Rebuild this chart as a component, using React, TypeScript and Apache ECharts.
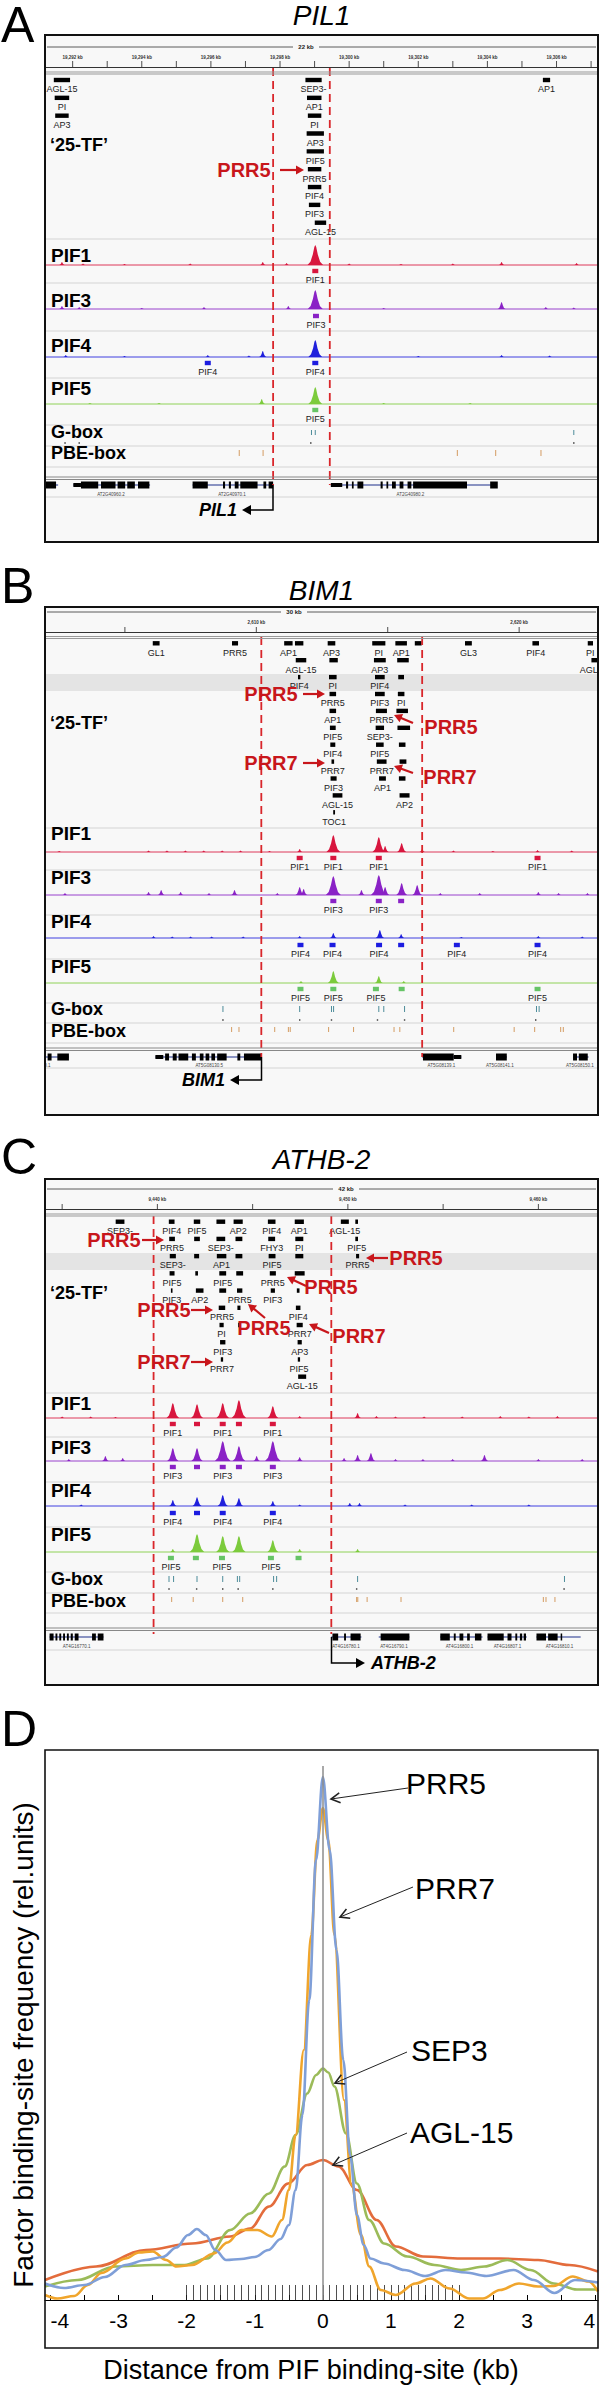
import { useEffect, useRef } from "react";
import * as echarts from "echarts";

const FONT = "'Liberation Sans', Arial, Helvetica, sans-serif";
const BOX_L = 45;
const BOX_R = 598;
const BOX_W = BOX_R - BOX_L;

const TRACK_NAMES = ["PIF1", "PIF3", "PIF4", "PIF5"];
const TRACK_COLORS = ["#d8163e", "#8a22c6", "#2020dc", "#7ccb3c"];
const SITE_COLORS = ["#d8163e", "#8a22c6", "#1c1ce0", "#66c466"];

// ================= Panel A : PIL1 =================
const rulerTicksA = [19292, 19293, 19294, 19295, 19296, 19297, 19298, 19299, 19300, 19301, 19302, 19303, 19304, 19305, 19306, 19307];
const rulerLabelsA = [[19292, "19,292 kb"], [19294, "19,294 kb"], [19296, "19,296 kb"], [19298, "19,298 kb"], [19300, "19,300 kb"], [19302, "19,302 kb"], [19304, "19,304 kb"], [19306, "19,306 kb"]];
const dashA = [19297.8, 19299.44];
const featuresA = [
  [19291.69, 0.47, 1, "AGL-15"], [19298.97, 0.47, 1, "SEP3-"], [19305.71, 0.21, 1, "AP1"],
  [19291.69, 0.42, 2, "PI"], [19298.99, 0.42, 2, "AP1"],
  [19291.69, 0.39, 3, "AP3"], [19299.0, 0.39, 3, "PI"],
  [19299.02, 0.5, 4, "AP3"],
  [19299.02, 0.5, 5, "PIF5"],
  [19299.0, 0.39, 6, "PRR5"],
  [19299.0, 0.39, 7, "PIF4"],
  [19299.0, 0.33, 8, "PIF3"],
  [19299.17, 0.33, 9, "AGL-15"],
];
const peaksA = [
  [19299.02, 20, 0], [19297.5, 3, 0], [19291.69, 3, 0], [19304.41, 3, 0], [19306.58, 2, 0], [19298.19, 2, 0], [19292.3, 1.5, 0], [19293.5, 1, 0], [19295.4, 1.5, 0], [19300.0, 1.5, 0], [19301.5, 1, 0], [19303.0, 1.5, 0],
  [19299.02, 19, 1], [19304.41, 7, 1], [19298.24, 3, 1], [19291.69, 3, 1], [19292.19, 2, 1], [19295.8, 2, 1], [19305.69, 2, 1], [19306.5, 1.5, 1], [19294.0, 1, 1], [19301.0, 1, 1],
  [19299.02, 17, 2], [19297.5, 6, 2], [19295.91, 2, 2], [19291.8, 2, 2], [19304.41, 2, 2], [19297.1, 1.5, 2], [19293.5, 1, 2], [19302.0, 1, 2], [19305.8, 1.5, 2],
  [19299.02, 17, 3], [19297.47, 5, 3], [19292.5, 1, 3], [19294.5, 1, 3], [19301.0, 1, 3], [19303.5, 1, 3],
];
const sitesA = [[19299.02, 0, "PIF1"], [19299.04, 1, "PIF3"], [19295.91, 2, "PIF4"], [19299.02, 2, "PIF4"], [19299.02, 3, "PIF5"]];
const gboxA = [19298.91, 19299.02, 19306.5];
const gboxDotsA = [19291.78, 19292.19, 19298.89, 19306.5];
const pbeA = [19296.82, 19297.51, 19303.13, 19304.24, 19305.55];
const geneLinesA = [[19291.22, 19291.58], [19292.02, 19294.24], [19295.47, 19297.8], [19299.47, 19304.19]];
const exonsA = [[19291.22, 19291.52], [19292.24, 19292.74], [19292.82, 19293.24], [19293.3, 19293.52], [19293.58, 19293.8], [19293.89, 19294.22], [19295.47, 19295.91], [19296.35, 19296.41], [19296.52, 19296.58], [19296.69, 19296.8], [19296.85, 19297.35], [19297.52, 19297.6], [19297.67, 19297.8], [19299.91, 19299.97], [19300.08, 19300.13], [19300.24, 19300.41], [19300.91, 19300.97], [19301.08, 19301.13], [19301.24, 19301.35], [19301.46, 19301.57], [19301.69, 19301.8], [19301.85, 19303.41], [19304.08, 19304.3]];
const utrA = [[19292.02, 19292.24], [19299.47, 19299.8]];
const geneLabelsA = [[19293.11, "AT2G40960.2"], [19296.61, "AT2G40970.1"], [19301.77, "AT2G40980.2"]];

// ================= Panel B : BIM1 =================
const rulerTicksB = [2605, 2610, 2615, 2620];
const rulerLabelsB = [[2610, "2,610 kb"], [2620, "2,620 kb"]];
const dashB = [2610.19, 2616.31];
const featuresB = [
  [2606.19, 0.26, 1, "GL1"], [2609.19, 0.23, 1, "PRR5"], [2611.22, 0.32, 1, "AP1"], [2611.63, 0.32, 1, ""], [2612.86, 0.29, 1, "AP3"], [2614.66, 0.5, 1, "PI"], [2615.51, 0.44, 1, "AP1"], [2616.16, 0.26, 1, ""], [2618.07, 0.26, 1, "GL3"], [2620.63, 0.25, 1, "PIF4"], [2622.71, 0.2, 1, "PI"],
  [2611.7, 0.4, 2, "AGL-15"], [2612.94, 0.32, 2, ""], [2614.7, 0.45, 2, "AP3"], [2615.58, 0.44, 2, ""], [2622.9, 0.3, 2, "AGL-15"],
  [2611.63, 0.09, 3, "PIF4"], [2612.91, 0.29, 3, "PI"], [2614.7, 0.37, 3, "PIF4"], [2615.51, 0.22, 3, ""],
  [2612.91, 0.25, 4, "PRR5"], [2614.7, 0.37, 4, "PIF3"], [2615.51, 0.25, 4, "PI"],
  [2612.91, 0.25, 5, "AP1"], [2614.76, 0.42, 5, "PRR5"], [2615.55, 0.44, 5, ""],
  [2612.91, 0.22, 6, "PIF5"], [2614.7, 0.32, 6, "SEP3-"], [2615.61, 0.48, 6, ""],
  [2612.91, 0.19, 7, "PIF4"], [2614.7, 0.29, 7, "PIF5"], [2615.55, 0.25, 7, ""],
  [2612.91, 0.1, 8, "PRR7"], [2614.77, 0.37, 8, "PRR7"], [2615.58, 0.26, 8, ""],
  [2612.94, 0.23, 9, "PIF3"], [2614.8, 0.26, 9, "AP1"], [2615.55, 0.25, 9, ""],
  [2613.09, 0.37, 10, "AGL-15"], [2615.64, 0.38, 10, "AP2"],
  [2612.96, 0.07, 11, "TOC1"],
];
const peaksB = [
  [2611.65, 3, 0], [2612.93, 17, 0], [2614.66, 15, 0], [2614.9, 6, 0], [2615.53, 9, 0], [2616.31, 3, 0], [2605.9, 1.5, 0], [2606.6, 1.5, 0], [2607.3, 1.5, 0], [2608.0, 1.5, 0], [2608.7, 1.5, 0], [2609.4, 1.5, 0], [2610.5, 1, 0], [2617.5, 1.5, 0], [2619.0, 1, 0], [2620.7, 2, 0], [2622.0, 1.5, 0], [2602.5, 1, 0],
  [2612.93, 19, 1], [2614.66, 20, 1], [2614.9, 8, 1], [2615.53, 12, 1], [2616.12, 10, 1], [2611.65, 8, 1], [2611.8, 6, 1], [2614.0, 5, 1], [2606.38, 5, 1], [2609.17, 5, 1], [2620.73, 3, 1], [2602.72, 2, 1], [2607.12, 3, 1], [2605.9, 3, 1], [2608.2, 2, 1], [2610.8, 2, 1], [2617.0, 2, 1], [2618.5, 2, 1], [2621.5, 2, 1], [2622.6, 2, 1],
  [2614.7, 8, 2], [2612.93, 5, 2], [2615.51, 4, 2], [2611.65, 2, 2], [2606.09, 2, 2], [2620.73, 2, 2], [2606.8, 1.5, 2], [2607.5, 1.5, 2], [2608.3, 1.5, 2], [2609.5, 1.5, 2], [2617.8, 1, 2], [2622.4, 1.5, 2],
  [2612.93, 12, 3], [2614.66, 7, 3], [2615.61, 2, 3], [2611.7, 2, 3],
];
const sitesB = [
  [2611.65, 0, "PIF1"], [2612.93, 0, "PIF1"], [2614.66, 0, "PIF1"], [2620.7, 0, "PIF1"],
  [2612.93, 1, "PIF3"], [2614.66, 1, "PIF3"], [2615.51, 1, ""],
  [2611.68, 2, "PIF4"], [2612.9, 2, "PIF4"], [2614.67, 2, "PIF4"], [2615.51, 2, ""], [2617.63, 2, "PIF4"], [2620.7, 2, "PIF4"],
  [2611.68, 3, "PIF5"], [2612.93, 3, "PIF5"], [2614.55, 3, "PIF5"], [2615.53, 3, ""], [2620.7, 3, "PIF5"],
];
const gboxB = [2608.73, 2611.65, 2612.86, 2612.94, 2614.66, 2614.85, 2615.64, 2620.66, 2620.76];
const gboxDotsB = [2608.73, 2611.65, 2612.86, 2614.61, 2615.64, 2620.63];
const pbeB = [2609.06, 2609.34, 2610.7, 2611.22, 2611.29, 2612.75, 2613.7, 2615.24, 2615.46, 2616.31, 2617.51, 2619.81, 2620.59, 2621.58, 2621.68];
const geneLinesB = [[2601.96, 2602.87], [2606.16, 2610.19], [2616.31, 2617.8], [2619.12, 2619.53], [2622.05, 2622.64]];
const exonsB = [[2602.06, 2602.21], [2602.43, 2602.87], [2606.53, 2606.68], [2606.82, 2606.97], [2607.04, 2607.41], [2607.55, 2607.7], [2607.85, 2607.99], [2608.07, 2608.21], [2608.29, 2608.43], [2608.51, 2608.87], [2609.28, 2609.39], [2609.53, 2610.19], [2616.34, 2617.51], [2619.12, 2619.53], [2622.05, 2622.2], [2622.27, 2622.61]];
const utrB = [[2606.16, 2606.46], [2617.51, 2617.8]];
const geneLabelsB = [[2602.05, "0.1"], [2608.21, "AT5G08130.5"], [2617.04, "AT5G08139.1"], [2619.27, "AT5G08141.1"], [2622.31, "AT5G08150.1"]];

// ================= Panel C : ATHB-2 =================
const rulerTicksC = [9435, 9440, 9445, 9450, 9455, 9460];
const rulerLabelsC = [[9440, "9,440 kb"], [9450, "9,450 kb"], [9460, "9,460 kb"]];
const dashC = [9439.8, 9449.13];
const featuresC = [
  [9438.04, 0.46, 1, "SEP3-"], [9440.75, 0.3, 1, "PIF4"], [9442.08, 0.34, 1, "PIF5"], [9443.33, 0.46, 1, ""], [9444.24, 0.48, 1, "AP2"], [9446.0, 0.4, 1, "PIF4"], [9447.45, 0.48, 1, "AP1"], [9449.84, 0.42, 1, "AGL-15"], [9450.46, 0.14, 1, ""],
  [9440.77, 0.3, 2, "PRR5"], [9442.08, 0.3, 2, ""], [9443.33, 0.46, 2, "SEP3-"], [9444.28, 0.36, 2, ""], [9446.0, 0.36, 2, "FHY3"], [9447.45, 0.42, 2, "PI"], [9450.46, 0.14, 2, "PIF5"],
  [9440.81, 0.32, 3, "SEP3-"], [9442.06, 0.26, 3, ""], [9443.37, 0.5, 3, "AP1"], [9444.28, 0.36, 3, ""], [9446.02, 0.36, 3, "PIF5"], [9447.45, 0.42, 3, ""], [9450.51, 0.16, 3, "PRR5"],
  [9440.77, 0.26, 4, "PIF5"], [9442.06, 0.14, 4, ""], [9443.43, 0.36, 4, "PIF5"], [9444.32, 0.36, 4, ""], [9446.06, 0.32, 4, "PRR5"], [9447.47, 0.52, 4, ""],
  [9440.75, 0.08, 5, "PIF3"], [9442.22, 0.4, 5, "AP2"], [9443.43, 0.36, 5, ""], [9444.32, 0.28, 5, "PRR5"], [9446.06, 0.22, 5, "PIF3"], [9447.39, 0.14, 5, ""],
  [9443.39, 0.34, 6, "PRR5"], [9444.28, 0.16, 6, ""], [9447.39, 0.24, 6, "PIF4"],
  [9443.37, 0.22, 7, "PI"], [9444.28, 0.08, 7, ""], [9447.47, 0.32, 7, "PRR7"],
  [9443.43, 0.28, 8, "PIF3"], [9447.47, 0.22, 8, "AP3"],
  [9443.39, 0.12, 9, "PRR7"], [9447.43, 0.12, 9, "PIF5"],
  [9447.6, 0.42, 10, "AGL-15"],
];
const peaksC = [
  [9440.81, 15, 0], [9442.08, 14, 0], [9443.43, 15, 0], [9444.28, 18, 0], [9446.06, 12, 0], [9450.51, 5, 0], [9447.47, 2, 0], [9435.0, 1.5, 0], [9436.5, 1.5, 0], [9437.8, 1, 0], [9451.5, 2, 0], [9452.5, 1.5, 0], [9454.0, 1.5, 0], [9456.0, 1.5, 0], [9458.0, 2, 0], [9459.5, 1.5, 0], [9461.0, 2, 0],
  [9440.81, 13, 1], [9442.08, 13, 1], [9443.43, 20, 1], [9444.28, 15, 1], [9446.06, 20, 1], [9437.27, 5, 1], [9445.21, 5, 1], [9447.47, 4, 1], [9451.21, 8, 1], [9450.51, 6, 1], [9457.17, 6, 1], [9435.35, 2, 1], [9438.18, 3, 1], [9453.94, 2, 1], [9460.0, 2, 1], [9449.8, 3, 1], [9452.5, 2, 1], [9455.5, 2, 1], [9462.3, 2, 1],
  [9440.81, 6, 2], [9442.08, 9, 2], [9443.43, 11, 2], [9444.28, 8, 2], [9446.06, 5, 2], [9450.1, 3, 2], [9450.61, 3, 2], [9447.47, 1.5, 2], [9436.0, 1.5, 2], [9453.0, 1.5, 2], [9456.5, 1.5, 2], [9459.5, 1.5, 2],
  [9440.81, 3, 3], [9442.08, 18, 3], [9443.43, 16, 3], [9444.28, 16, 3], [9446.06, 12, 3], [9447.47, 3, 3], [9450.51, 3, 3],
];
const sitesC = [
  [9440.81, 0, "PIF1"], [9442.08, 0, ""], [9443.43, 0, "PIF1"], [9444.28, 0, ""], [9446.06, 0, "PIF1"],
  [9440.81, 1, "PIF3"], [9442.08, 1, ""], [9443.43, 1, "PIF3"], [9444.28, 1, ""], [9446.06, 1, "PIF3"],
  [9440.81, 2, "PIF4"], [9442.08, 2, ""], [9443.43, 2, "PIF4"], [9446.06, 2, "PIF4"],
  [9440.71, 3, "PIF5"], [9442.02, 3, ""], [9443.39, 3, "PIF5"], [9445.96, 3, "PIF5"], [9447.41, 3, ""],
];
const gboxC = [9440.61, 9440.85, 9442.08, 9443.43, 9444.2, 9444.32, 9446.1, 9446.26, 9450.51, 9461.37];
const gboxDotsC = [9440.61, 9442.06, 9443.43, 9444.24, 9446.06, 9450.46, 9461.35];
const pbeC = [9440.75, 9441.88, 9443.43, 9444.48, 9450.46, 9450.52, 9451.01, 9452.79, 9460.26, 9460.4, 9460.87];
const geneLinesC = [[9434.34, 9437.17], [9449.13, 9450.71], [9451.62, 9453.23], [9454.85, 9457.07], [9457.33, 9459.39], [9459.9, 9462.22]];
const exonsC = [[9434.34, 9434.55], [9434.65, 9434.75], [9434.85, 9434.95], [9435.05, 9435.15], [9435.25, 9435.35], [9435.45, 9435.56], [9435.66, 9435.86], [9436.57, 9436.77], [9436.87, 9437.17], [9449.19, 9449.49], [9449.8, 9449.9], [9450.14, 9450.67], [9451.72, 9453.23], [9454.85, 9455.35], [9455.56, 9455.66], [9455.86, 9456.06], [9456.26, 9456.4], [9456.67, 9457.01], [9457.33, 9458.18], [9458.38, 9458.59], [9458.79, 9458.89], [9459.03, 9459.15], [9459.23, 9459.35], [9459.9, 9460.4], [9460.51, 9461.01], [9461.17, 9461.25]];
const utrC = [];
const geneLabelsC = [[9435.76, "AT4G16770.1"], [9449.9, "AT4G16780.1"], [9452.42, "AT4G16790.1"], [9455.86, "AT4G16800.1"], [9458.38, "AT4G16807.1"], [9461.11, "AT4G16810.1"]];

// ================= Panel D : profile =================
const dTicks = [-4, -3.5, -3, -2.5, -2, -1.5, -1, -0.5, 0, 0.5, 1, 1.5, 2, 2.5, 3, 3.5, 4];
const dLabels = [-4, -3, -2, -1, 0, 1, 2, 3, 4];
const dRug = [-2, -1.9, -1.8, -1.7, -1.6, -1.5, -1.4, -1.3, -1.2, -1.1, -1, -0.9, -0.8, -0.7, -0.6, -0.5, -0.4, -0.3, -0.2, -0.1, 0, 0.1, 0.2, 0.3, 0.4, 0.5, 0.6, 0.7, 0.8, 0.9, 1, 1.1, 1.2, 1.3, 1.4, 1.5, 1.6, 1.7, 1.8, 1.9, 2];
const prr5Curve = [[-4.08, 3.3], [-3.8, 2.4], [-3.5, 3], [-3.2, 4.6], [-2.9, 7], [-2.6, 8], [-2.35, 8.6], [-2.15, 10.5], [-1.98, 13], [-1.85, 14.2], [-1.72, 13], [-1.58, 10], [-1.42, 8], [-1.2, 8.2], [-1.0, 8.6], [-0.8, 10], [-0.62, 12.2], [-0.5, 15], [-0.4, 22], [-0.3, 37], [-0.2, 60], [-0.1, 88], [0, 104.6], [0.1, 90], [0.2, 70], [0.3, 48], [0.4, 29], [0.5, 17], [0.6, 11], [0.7, 8.3], [0.9, 7.3], [1.2, 6], [1.5, 4.8], [1.8, 6], [2.1, 5.5], [2.4, 4.8], [2.8, 6], [3.1, 4], [3.4, 1.4], [3.7, 4], [4.04, 3.5]];
const prr7Curve = [[-4.08, 1], [-3.9, 0.3], [-3.65, 0.8], [-3.45, 3], [-3.25, 5.4], [-2.9, 8.3], [-2.7, 9.5], [-2.5, 9.7], [-2.3, 8], [-2.15, 6.7], [-1.92, 7], [-1.6, 9.3], [-1.4, 11.5], [-1.2, 14], [-0.96, 14], [-0.75, 12.7], [-0.6, 16], [-0.5, 22], [-0.4, 33], [-0.28, 50], [-0.17, 73], [-0.08, 92], [0, 98.4], [0.08, 92], [0.17, 73], [0.31, 40], [0.42, 23], [0.56, 13], [0.68, 6.7], [0.85, 2], [1.07, 1], [1.36, 3.3], [1.58, 4.3], [1.86, 2.3], [2.15, 0.3], [2.35, 0.3], [2.6, 2], [2.88, 3.3], [3.16, 2.7], [3.39, 2.8], [3.67, 4.7], [3.9, 3.7], [4.04, 1.7]];
const sep3Curve = [[-4.08, 2.7], [-3.6, 4], [-3.05, 6.7], [-2.5, 7], [-2.03, 7], [-1.7, 8.3], [-1.36, 14], [-1.07, 17.3], [-0.79, 21.3], [-0.56, 26.7], [-0.4, 33], [-0.23, 41.3], [-0.1, 45], [0, 46.3], [0.08, 45.5], [0.17, 42.7], [0.34, 33.3], [0.5, 23.3], [0.68, 16], [0.9, 11.3], [1.24, 8.7], [1.64, 7], [2.03, 6], [2.37, 6.7], [2.71, 8], [3.05, 6], [3.39, 3.3], [3.73, 2.1], [4.04, 2.1]];
const agl15Curve = [[-4.08, 4], [-3.33, 6.7], [-2.6, 10], [-1.92, 11.3], [-1.36, 12.7], [-1.07, 14.3], [-0.79, 18.7], [-0.51, 23.3], [-0.23, 27], [0, 28], [0.23, 26.7], [0.5, 22], [0.79, 16], [1.07, 10.7], [1.47, 8.7], [2.03, 8.3], [2.6, 8.3], [3.16, 8], [3.62, 7], [4.04, 5.7]];

// ================= Layouts (positions only) =================
const layoutA = {
  top: 35, height: 507, xMin: 19291.2, xMax: 19307.2,
  letter: "A", letterY: 25, title: "PIL1", titleY: 15,
  kbLabel: "22 kb", kbX: 306, kbY: 12, tickLabelY: 22, tickTop: 26, tickBottom: 32, rulerY: 32.5, hdrSep: 37,
  row0: 45, rowStep: 17.84, band: null, tfY: 110,
  seps: [204, 248, 296, 343, 390, 411, 432, 462], geneSep: 442,
  trackLabelY: [220, 265, 310, 353], gboxLabelY: 397, pbeLabelY: 418,
  baseY: [230, 274, 322, 369], siteY: [236, 281, 328, 375],
  gboxTick: [395, 400], gboxDot: 408, pbeTick: [415, 421],
  geneY: 450, geneLabelY: 459, dashTop: 33, dashBottom: 450,
  geneName: { text: "PIL1", x: 273, y: 475, tip: 242, dir: -1 },
  annotations: [{ text: "PRR5", tx: 244, ty: 170, x1: 280, y1: 170, x2: 304, y2: 170 }],
};
const layoutB = {
  top: 607, height: 508, xMin: 2601.96, xMax: 2623.0,
  letter: "B", letterY: 586, title: "BIM1", titleY: 590,
  kbLabel: "30 kb", kbX: 294, kbY: 5, tickLabelY: 15, tickTop: 20, tickBottom: 25, rulerY: 25.5, hdrSep: 29.5,
  row0: 36.3, rowStep: 16.9, band: [67, 84], tfY: 116,
  seps: [221, 263, 308, 352, 396, 416, 436, 461], geneSep: 441,
  trackLabelY: [226, 270, 314, 359], gboxLabelY: 402, pbeLabelY: 424,
  baseY: [245, 288, 331, 376], siteY: [251, 294, 338, 382],
  gboxTick: [399, 405], gboxDot: 413, pbeTick: [420, 425],
  geneY: 450, geneLabelY: 458, dashTop: 30, dashBottom: 450,
  geneName: { text: "BIM1", x: 261.5, y: 473, tip: 230, dir: -1 },
  annotations: [
    { text: "PRR5", tx: 271, ty: 694, x1: 303, y1: 694, x2: 325, y2: 694 },
    { text: "PRR5", tx: 451, ty: 727, x1: 413, y1: 723, x2: 394, y2: 715 },
    { text: "PRR7", tx: 271, ty: 763, x1: 303, y1: 763, x2: 325, y2: 763 },
    { text: "PRR7", tx: 450, ty: 777, x1: 413, y1: 773, x2: 394, y2: 766 },
  ],
};
const layoutC = {
  top: 1179, height: 506, xMin: 9434.1, xMax: 9463.13,
  letter: "C", letterY: 1157, title: "ATHB-2", titleY: 1159,
  kbLabel: "42 kb", kbX: 346, kbY: 10, tickLabelY: 20, tickTop: 25, tickBottom: 30, rulerY: 30.5, hdrSep: 35,
  row0: 42.7, rowStep: 17.22, band: [74, 91], tfY: 114,
  seps: [214, 258, 303, 348, 393, 414, 434, 471], geneSep: 449,
  trackLabelY: [224, 268, 311, 355], gboxLabelY: 400, pbeLabelY: 422,
  baseY: [239, 282, 327, 373], siteY: [245, 288, 334, 379],
  gboxTick: [397, 403], gboxDot: 410, pbeTick: [418, 423],
  geneY: 458, geneLabelY: 467, dashTop: 37, dashBottom: 455,
  geneName: { text: "ATHB-2", x: 331.5, y: 484, tip: 365, dir: 1 },
  annotations: [
    { text: "PRR5", tx: 114, ty: 1240, x1: 142, y1: 1240, x2: 164, y2: 1240 },
    { text: "PRR5", tx: 416, ty: 1258, x1: 388, y1: 1258, x2: 366, y2: 1258 },
    { text: "PRR5", tx: 331, ty: 1287, x1: 306, y1: 1286, x2: 287, y2: 1277 },
    { text: "PRR5", tx: 164, ty: 1310, x1: 191, y1: 1310, x2: 213, y2: 1310 },
    { text: "PRR5", tx: 264, ty: 1328, x1: 265, y1: 1318, x2: 248, y2: 1304 },
    { text: "PRR7", tx: 359, ty: 1336, x1: 329, y1: 1333, x2: 309, y2: 1324 },
    { text: "PRR7", tx: 164, ty: 1362, x1: 191, y1: 1362, x2: 213, y2: 1362 },
  ],
};

const panels = [
  { L: layoutA, rulerTicks: rulerTicksA, rulerLabels: rulerLabelsA, dash: dashA, features: featuresA, peaks: peaksA, sites: sitesA, gbox: gboxA, gboxDots: gboxDotsA, pbe: pbeA, geneLines: geneLinesA, exons: exonsA, utr: utrA, geneLabels: geneLabelsA },
  { L: layoutB, rulerTicks: rulerTicksB, rulerLabels: rulerLabelsB, dash: dashB, features: featuresB, peaks: peaksB, sites: sitesB, gbox: gboxB, gboxDots: gboxDotsB, pbe: pbeB, geneLines: geneLinesB, exons: exonsB, utr: utrB, geneLabels: geneLabelsB },
  { L: layoutC, rulerTicks: rulerTicksC, rulerLabels: rulerLabelsC, dash: dashC, features: featuresC, peaks: peaksC, sites: sitesC, gbox: gboxC, gboxDots: gboxDotsC, pbe: pbeC, geneLines: geneLinesC, exons: exonsC, utr: utrC, geneLabels: geneLabelsC },
];

const PEAK_SHAPE = [[-1, 0], [-0.62, 0.16], [-0.32, 0.52], [-0.12, 0.9], [0, 1], [0.12, 0.9], [0.32, 0.52], [0.62, 0.16], [1, 0]];

function tx(x: number, y: number, text: string, font: string, fill: string, align = "left", z = 10, extra: any = {}) {
  return { type: "text", x, y, z, silent: true, ...extra, style: { text, font, fill, align, textAlign: align, verticalAlign: "middle", textVerticalAlign: "middle" } };
}
function ln(x1: number, y1: number, x2: number, y2: number, stroke: string, lineWidth: number, z = 5) {
  return { type: "line", z, silent: true, shape: { x1, y1, x2, y2 }, style: { stroke, lineWidth } };
}
function arrow(x1: number, y1: number, x2: number, y2: number, color: string, lw: number, L: number, hw: number, open: boolean, z = 50) {
  const dx = x2 - x1, dy = y2 - y1, len = Math.hypot(dx, dy) || 1, ux = dx / len, uy = dy / len;
  const bx = x2 - ux * L, by = y2 - uy * L, nx = -uy, ny = ux;
  const pts = [[bx + nx * hw, by + ny * hw], [x2, y2], [bx - nx * hw, by - ny * hw]];
  const out: any[] = [];
  if (open) {
    out.push(ln(x1, y1, x2, y2, color, lw, z));
    out.push({ type: "polyline", z, silent: true, shape: { points: pts }, style: { stroke: color, lineWidth: lw * 1.6, fill: null } });
  } else {
    out.push(ln(x1, y1, bx + ux * 1, by + uy * 1, color, lw, z));
    out.push({ type: "polygon", z, silent: true, shape: { points: pts }, style: { fill: color } });
  }
  return out;
}
function ctext(x: number, y: number, text: string, font: string, fill: string, align = "center") {
  return { type: "text", style: { text, x, y, font, fill, align, textAlign: align, verticalAlign: "middle", textVerticalAlign: "middle" } };
}

function panelSeries(P: any, gi: number) {
  const L = P.L;
  const mk = (arr: any[], render: (d: any, api: any) => any, clip = true) => ({
    type: "custom", xAxisIndex: gi, yAxisIndex: gi, silent: true, clip, z: 3,
    data: arr.map((d: any) => [Array.isArray(d) ? d[0] : d, 0]),
    renderItem: (params: any, api: any) => render(arr[params.dataIndex], api),
  });
  const vline = (api: any, x: number, y1: number, y2: number, stroke: string, lineWidth: number, lineDash?: number[]) => {
    const a = api.coord([x, y1]), b = api.coord([x, y2]);
    return { type: "line", shape: { x1: a[0], y1: a[1], x2: b[0], y2: b[1] }, style: { stroke, lineWidth, lineDash } };
  };
  const S: any[] = [];
  S.push(mk(P.rulerTicks, (d, api) => vline(api, d, L.tickTop, L.tickBottom, "#222", 0.8)));
  S.push(mk(P.rulerLabels, (d, api) => { const p = api.coord([d[0], L.tickLabelY]); return ctext(p[0], p[1], d[1], `bold 4.5px ${FONT}`, "#333"); }, false));
  S.push(mk(P.features, (d, api) => {
    const y = L.row0 + (d[2] - 1) * L.rowStep;
    const a = api.coord([d[0] - d[1] / 2, y]), b = api.coord([d[0] + d[1] / 2, y]);
    const ch: any[] = [{ type: "rect", shape: { x: a[0], y: a[1] - 2.2, width: Math.max(1.6, b[0] - a[0]), height: 4.4 }, style: { fill: "#000" } }];
    if (d[3]) ch.push(ctext((a[0] + b[0]) / 2, a[1] + 9.3, d[3], `9px ${FONT}`, "#222"));
    return { type: "group", children: ch };
  }));
  S.push(mk(TRACK_NAMES.map((n, i) => [L.xMin, i]), (d, api) => {
    const a = api.coord([L.xMin, L.baseY[d[1]]]), b = api.coord([L.xMax, L.baseY[d[1]]]);
    return { type: "line", shape: { x1: a[0], y1: a[1], x2: b[0], y2: b[1] }, style: { stroke: TRACK_COLORS[d[1]], lineWidth: 1, opacity: 0.85 } };
  }));
  S.push(mk(P.peaks, (d, api) => {
    const p = api.coord([d[0], L.baseY[d[2]]]);
    const h = d[1], w = 1.8 + h * 0.3;
    return { type: "polygon", shape: { points: PEAK_SHAPE.map(([u, v]) => [p[0] + u * w, p[1] - v * h]) }, style: { fill: TRACK_COLORS[d[2]] } };
  }));
  S.push(mk(P.sites, (d, api) => {
    const p = api.coord([d[0], L.siteY[d[1]]]);
    const ch: any[] = [{ type: "rect", shape: { x: p[0] - 3, y: p[1] - 2.2, width: 6, height: 4.4 }, style: { fill: SITE_COLORS[d[1]] } }];
    if (d[2]) ch.push(ctext(p[0], p[1] + 8.5, d[2], `9px ${FONT}`, "#222"));
    return { type: "group", children: ch };
  }));
  S.push(mk(P.gbox, (d, api) => vline(api, d, L.gboxTick[0], L.gboxTick[1], "#4d8c9a", 1)));
  S.push(mk(P.gboxDots, (d, api) => { const p = api.coord([d, L.gboxDot]); return { type: "rect", shape: { x: p[0] - 0.7, y: p[1] - 0.7, width: 1.4, height: 1.4 }, style: { fill: "#333" } }; }));
  S.push(mk(P.pbe, (d, api) => vline(api, d, L.pbeTick[0], L.pbeTick[1], "#d49c62", 1)));
  S.push(mk(P.geneLines, (d, api) => {
    const a = api.coord([d[0], L.geneY]), b = api.coord([d[1], L.geneY]);
    return { type: "line", shape: { x1: a[0], y1: a[1], x2: b[0], y2: b[1] }, style: { stroke: "#1d2f8a", lineWidth: 1 } };
  }));
  S.push(mk(P.utr, (d, api) => { const a = api.coord([d[0], L.geneY]), b = api.coord([d[1], L.geneY]); return { type: "rect", shape: { x: a[0], y: a[1] - 2, width: b[0] - a[0], height: 4 }, style: { fill: "#000" } }; }));
  S.push(mk(P.exons, (d, api) => { const a = api.coord([d[0], L.geneY]), b = api.coord([d[1], L.geneY]); return { type: "rect", shape: { x: a[0], y: a[1] - 3.5, width: Math.max(1.2, b[0] - a[0]), height: 7 }, style: { fill: "#000" } }; }));
  S.push(mk(P.geneLabels, (d, api) => { const p = api.coord([d[0], L.geneLabelY]); return ctext(p[0], p[1], d[1], `4.5px ${FONT}`, "#444"); }));
  S.push(mk(P.dash, (d, api) => vline(api, d, L.dashTop, L.dashBottom, "#d9262b", 1.8, [8, 5])));
  return S;
}

function panelGraphics(P: any) {
  const L = P.L, T = L.top;
  const E: any[] = [];
  E.push(tx(1, L.letterY, L.letter, `50px ${FONT}`, "#000"));
  E.push(tx(321.5, L.titleY, L.title, `italic 28px ${FONT}`, "#000", "center"));
  E.push({ type: "rect", z: 0, silent: true, shape: { x: BOX_L, y: T, width: BOX_W, height: L.height }, style: { fill: "#f8f8f8" } });
  if (L.band) E.push({ type: "rect", z: 1, silent: true, shape: { x: BOX_L, y: T + L.band[0], width: BOX_W, height: L.band[1] - L.band[0] }, style: { fill: "#e4e4e4" } });
  E.push(ln(BOX_L + 2, T + L.kbY, L.kbX - 13, T + L.kbY, "#333", 0.8));
  E.push(ln(L.kbX + 13, T + L.kbY, BOX_R - 2, T + L.kbY, "#333", 0.8));
  E.push(tx(L.kbX, T + L.kbY, L.kbLabel, `bold 6px ${FONT}`, "#222", "center"));
  E.push(ln(BOX_L, T + L.rulerY, BOX_R, T + L.rulerY, "#333", 1));
  E.push(ln(BOX_L, T + L.hdrSep, BOX_R, T + L.hdrSep, "#999", 1));
  E.push(ln(BOX_L, T + L.hdrSep + 2, BOX_R, T + L.hdrSep + 2, "#999", 1));
  for (const s of L.seps) E.push(ln(BOX_L, T + s, BOX_R, T + s, "#d4d4d4", 1, 2));
  E.push(ln(BOX_L, T + L.geneSep, BOX_R, T + L.geneSep, "#888", 1));
  E.push(ln(BOX_L, T + L.geneSep + 2.5, BOX_R, T + L.geneSep + 2.5, "#888", 1));
  E.push(tx(50, T + L.tfY, "\u201825-TF\u2019", `bold 18px ${FONT}`, "#000"));
  TRACK_NAMES.forEach((n, i) => E.push(tx(51, T + L.trackLabelY[i], n, `bold 19px ${FONT}`, "#000")));
  E.push(tx(51, T + L.gboxLabelY, "G-box", `bold 18px ${FONT}`, "#000"));
  E.push(tx(51, T + L.pbeLabelY, "PBE-box", `bold 18px ${FONT}`, "#000"));
  const g = L.geneName;
  const yTop = T + L.geneY, yArr = T + g.y;
  E.push({ type: "polyline", z: 20, silent: true, shape: { points: [[g.x, yTop], [g.x, yArr], [g.tip - g.dir * 6, yArr]] }, style: { stroke: "#000", lineWidth: 1.5, fill: null } });
  E.push({ type: "polygon", z: 20, silent: true, shape: { points: [[g.tip, yArr], [g.tip - g.dir * 9, yArr - 5], [g.tip - g.dir * 9, yArr + 5]] }, style: { fill: "#000" } });
  E.push(tx(g.dir < 0 ? g.tip - 5 : g.tip + 6, yArr, g.text, `italic bold 18px ${FONT}`, "#000", g.dir < 0 ? "right" : "left", 20));
  for (const a of L.annotations) {
    E.push(tx(a.tx, a.ty, a.text, `bold 20px ${FONT}`, "#c8161b", "center", 50));
    E.push(...arrow(a.x1, a.y1, a.x2, a.y2, "#c8161b", 2.2, 8, 4.5, false));
  }
  E.push({ type: "rect", z: 100, silent: true, shape: { x: BOX_L, y: T, width: BOX_W, height: L.height }, style: { fill: null, stroke: "#111", lineWidth: 2 } });
  return E;
}

const D_TOP = 1750, D_AXIS = 2300, D_BOTTOM = 2348;

function buildOption() {
  const grids: any[] = [], xAxes: any[] = [], yAxes: any[] = [], series: any[] = [], graphics: any[] = [];
  panels.forEach((P, gi) => {
    grids.push({ left: BOX_L, top: P.L.top, width: BOX_W, height: P.L.height, containLabel: false, outerBoundsMode: "none" });
    xAxes.push({ gridIndex: gi, type: "value", min: P.L.xMin, max: P.L.xMax, show: false });
    yAxes.push({ gridIndex: gi, type: "value", min: 0, max: P.L.height, inverse: true, show: false });
    series.push(...panelSeries(P, gi));
    graphics.push(...panelGraphics(P));
  });
  // Panel D
  grids.push({ left: BOX_L, top: D_TOP, width: BOX_W, height: D_AXIS - D_TOP, containLabel: false, outerBoundsMode: "none" });
  xAxes.push({
    gridIndex: 3, type: "value", min: -4.08, max: 4.04, position: "bottom",
    axisLine: { show: true, onZero: false, lineStyle: { color: "#000", width: 1.2 } },
    axisTick: { show: true, inside: true, length: 5, customValues: dTicks, lineStyle: { color: "#000", width: 1 } },
    axisLabel: { show: true, customValues: dLabels, fontSize: 21, color: "#000", fontFamily: FONT, margin: 10, alignMinLabel: "left", alignMaxLabel: "right" },
    splitLine: { show: false },
  });
  xAxes.push({
    gridIndex: 3, type: "value", min: -4.08, max: 4.04, position: "bottom", offset: 0,
    axisLine: { show: false },
    axisTick: { show: true, inside: true, length: 15, customValues: dRug, lineStyle: { color: "#222", width: 0.8 } },
    axisLabel: { show: false }, splitLine: { show: false },
  });
  yAxes.push({ gridIndex: 3, type: "value", min: 0, max: 110, show: false });
  const curve = (name: string, data: number[][], color: string, extra: any = {}) => ({
    name, type: "line", xAxisIndex: 3, yAxisIndex: 3, data, smooth: 0.35, smoothMonotone: "x", symbol: "none", showSymbol: false,
    lineStyle: { color, width: 2.6 }, silent: true, z: 4, ...extra,
  });
  series.push(curve("AGL-15", agl15Curve, "#e36c3c", {
    markLine: { silent: true, symbol: ["none", "none"], label: { show: false }, lineStyle: { color: "#8c8c8c", width: 1.5, type: "solid" }, data: [[{ coord: [0, 0] }, { coord: [0, 106.8] }]] },
  }));
  series.push(curve("SEP3", sep3Curve, "#9bbb59"));
  series.push(curve("PRR7", prr7Curve, "#f0a52c"));
  series.push(curve("PRR5", prr5Curve, "#7f9fd8"));

  graphics.push(tx(1, 1729, "D", `50px ${FONT}`, "#000"));
  graphics.push({ type: "rect", z: 100, silent: true, shape: { x: BOX_L, y: D_TOP, width: BOX_W, height: D_BOTTOM - D_TOP }, style: { fill: null, stroke: "#111", lineWidth: 1.6 } });
  const dl = [
    { text: "PRR5", x: 406, y: 1783, a: [408, 1788, 331, 1799] },
    { text: "PRR7", x: 415, y: 1888, a: [413, 1887, 340, 1917] },
    { text: "SEP3", x: 411, y: 2050, a: [407, 2052, 335, 2083] },
    { text: "AGL-15", x: 410, y: 2132, a: [407, 2133, 333, 2165] },
  ];
  for (const l of dl) {
    graphics.push(tx(l.x, l.y, l.text, `30px ${FONT}`, "#000", "left", 60));
    graphics.push(...arrow(l.a[0], l.a[1], l.a[2], l.a[3], "#222", 1, 9, 5, true, 60));
  }
  graphics.push(tx(311, 2370, "Distance from PIF binding-site (kb)", `27px ${FONT}`, "#000", "center"));
  graphics.push(tx(23, 2045, "Factor binding-site frequency (rel.units)", `28px ${FONT}`, "#000", "center", 10, { rotation: Math.PI / 2 }));

  return {
    animation: false,
    backgroundColor: "#ffffff",
    textStyle: { fontFamily: FONT },
    grid: grids, xAxis: xAxes, yAxis: yAxes, series,
    graphic: { elements: graphics },
  };
}

export default function App() {
  const ref = useRef<HTMLDivElement>(null);
  useEffect(() => {
    document.body.style.margin = "0";
    const chart = echarts.init(ref.current as HTMLDivElement, null, { renderer: "svg", width: 601, height: 2391 });
    chart.setOption(buildOption() as any);
    return () => chart.dispose();
  }, []);
  return <div ref={ref} style={{ position: "absolute", left: 0, top: 0, width: 601, height: 2391, background: "#fff" }} />;
}
